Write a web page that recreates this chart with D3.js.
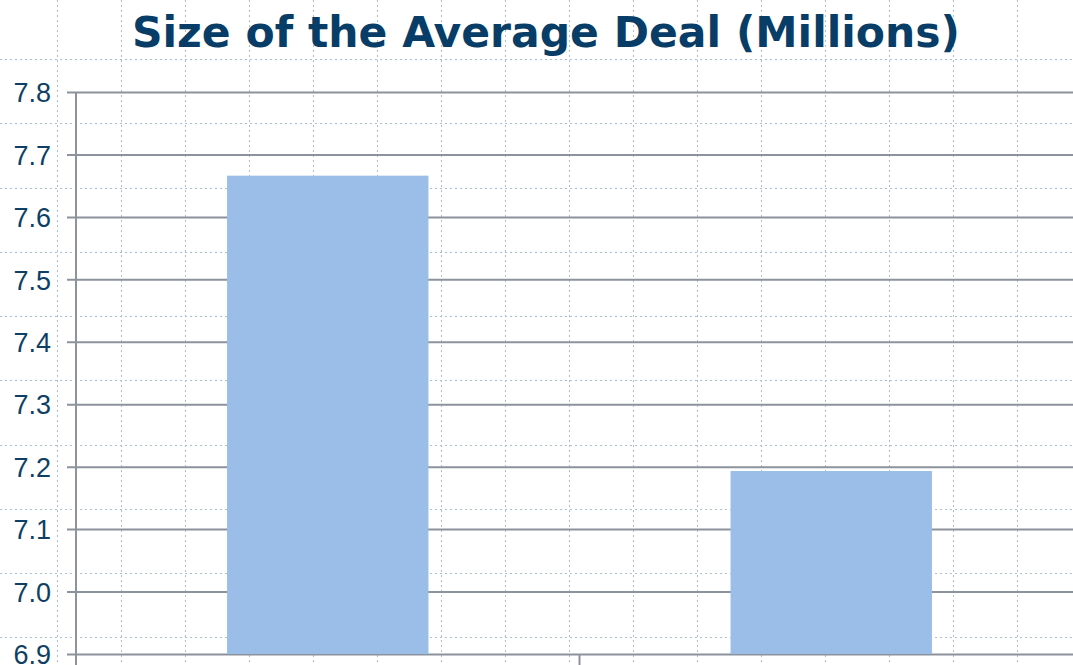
<!DOCTYPE html>
<html>
<head>
<meta charset="utf-8">
<script src="https://cdn.jsdelivr.net/npm/d3@7"></script>
<style>
  html, body { margin: 0; padding: 0; background: #fff; }
  svg { display: block; }
  .tickText { font-family: "Liberation Sans", Arial, sans-serif; font-size: 27px; fill: #0f3f64; }
  .title { font-family: "DejaVu Sans", Verdana, sans-serif; font-size: 42.5px; font-weight: bold; fill: #073d66; }
</style>
</head>
<body>
<div id="chart"></div>
<script>
// chart data
var categories = ["Period 1", "Period 2"];
var dealSize = [7.666, 7.193];
var yTicks = [6.9, 7.0, 7.1, 7.2, 7.3, 7.4, 7.5, 7.6, 7.7, 7.8];

var svgWidth = 1073;
var svgHeight = 665;

var margin = { top: 92, left: 76, right: -10, bottom: 11 };
var height = svgHeight - margin.top - margin.bottom;
var width = svgWidth - margin.left - margin.right;

var svg = d3.select("#chart")
  .append("svg")
  .attr("width", svgWidth)
  .attr("height", svgHeight);

// slide background: dotted grid
var bg = svg.append("g");
for (var gx = 57; gx < svgWidth; gx += 64) {
  bg.append("line")
    .attr("x1", gx + 0.5).attr("x2", gx + 0.5)
    .attr("y1", 0).attr("y2", svgHeight)
    .attr("stroke", "#a9c0d2")
    .attr("stroke-width", 1)
    .attr("stroke-dasharray", "2,3");
}
for (var gy = 59; gy < svgHeight; gy += 64.25) {
  bg.append("line")
    .attr("x1", 0).attr("x2", svgWidth)
    .attr("y1", Math.round(gy) + 0.5).attr("y2", Math.round(gy) + 0.5)
    .attr("stroke", "#a9c0d2")
    .attr("stroke-width", 1)
    .attr("stroke-dasharray", "2,3");
}

var chartGroup = svg.append("g")
  .attr("transform", `translate(${margin.left}, ${margin.top})`);

var yScale = d3.scaleLinear()
  .domain([6.9, 7.8])
  .range([height, 0]);

var xScale = d3.scaleBand()
  .domain(categories)
  .range([0, width])
  .paddingInner(0.6)
  .paddingOuter(0.3);

// horizontal gridlines with left tick marks
var leftAxis = d3.axisLeft(yScale)
  .tickValues(yTicks)
  .tickSize(-(width + 20))
  .tickSizeOuter(0)
  .tickPadding(16)
  .tickFormat(d3.format(".1f"));

var yAxisG = chartGroup.append("g")
  .attr("transform", "translate(-9,0)")
  .call(leftAxis);
yAxisG.select(".domain").remove();
yAxisG.selectAll(".tick line")
  .attr("stroke", "#8c939c")
  .attr("stroke-width", 2);
yAxisG.selectAll(".tick text")
  .attr("class", "tickText")
  .attr("x", -16)
  .attr("dy", "0.36em");

// bars
chartGroup.selectAll("rect.bar")
  .data(dealSize)
  .enter()
  .append("rect")
  .attr("class", "bar")
  .attr("x", (d, i) => xScale(categories[i]))
  .attr("y", d => yScale(d))
  .attr("width", xScale.bandwidth())
  .attr("height", d => height - yScale(d))
  .attr("fill", "#9bbee8");

// vertical value axis line
chartGroup.append("line")
  .attr("x1", 0).attr("x2", 0)
  .attr("y1", 0).attr("y2", height + 11)
  .attr("stroke", "#8c939c")
  .attr("stroke-width", 2);

// category axis: ticks between categories
var bottomAxis = d3.axisBottom(xScale)
  .tickSize(0)
  .tickFormat("");
var xAxisG = chartGroup.append("g")
  .attr("transform", `translate(0, ${height})`)
  .call(bottomAxis);
xAxisG.select(".domain").remove();
xAxisG.selectAll(".sep")
  .data(categories.slice(1))
  .enter()
  .append("line")
  .attr("class", "sep")
  .attr("x1", d => xScale(d) - xScale.step() * xScale.paddingInner() / 2)
  .attr("x2", d => xScale(d) - xScale.step() * xScale.paddingInner() / 2)
  .attr("y1", 0).attr("y2", 11)
  .attr("stroke", "#8c939c")
  .attr("stroke-width", 2);

// title
svg.append("text")
  .attr("class", "title")
  .attr("x", 546)
  .attr("y", 47)
  .attr("text-anchor", "middle")
  .text("Size of the Average Deal (Millions)");
</script>
</body>
</html>
